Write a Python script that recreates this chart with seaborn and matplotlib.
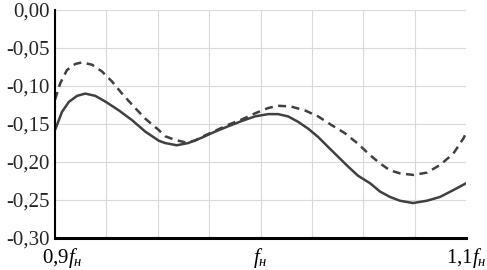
import pandas as pd
import matplotlib
matplotlib.use("Agg")
import matplotlib.pyplot as plt
import matplotlib.transforms as mtransforms
import seaborn as sns

# сплошная кривая
solid_f = [0.900, 0.9034, 0.9067, 0.9107, 0.9147, 0.9196, 0.9248, 0.9310,
           0.9375, 0.9439, 0.9505, 0.9535, 0.9592, 0.9649, 0.9714, 0.9779,
           0.9843, 0.9909, 0.9973, 1.0037, 1.0085, 1.0134, 1.0182, 1.0231,
           1.0280, 1.0328, 1.0377, 1.0426, 1.0474, 1.0533, 1.0582, 1.0630,
           1.0679, 1.0742, 1.0809, 1.0873, 1.0938, 1.100]
solid_v = [-0.158, -0.134, -0.121, -0.113, -0.110, -0.113, -0.121, -0.132,
           -0.145, -0.160, -0.172, -0.175, -0.178, -0.175, -0.168, -0.160,
           -0.153, -0.146, -0.140, -0.137, -0.137, -0.140, -0.147, -0.156,
           -0.167, -0.180, -0.193, -0.206, -0.218, -0.228, -0.239, -0.246,
           -0.251, -0.254, -0.251, -0.246, -0.237, -0.228]

# штриховая кривая
dash_f = [0.900, 0.9026, 0.9058, 0.9099, 0.9131, 0.9180, 0.9229, 0.9277,
          0.9326, 0.9383, 0.9439, 0.9505, 0.9535, 0.9584, 0.9633, 0.9681,
          0.9714, 0.9779, 0.9843, 0.9909, 0.9973, 1.0037, 1.0085, 1.0148,
          1.0215, 1.0280, 1.0343, 1.0410, 1.0474, 1.0533, 1.0582, 1.0630,
          1.0679, 1.0744, 1.0809, 1.0873, 1.0938, 1.0987, 1.100]
dash_v = [-0.118, -0.096, -0.079, -0.071, -0.069, -0.072, -0.081, -0.094,
          -0.110, -0.127, -0.143, -0.158, -0.166, -0.171, -0.174, -0.172,
          -0.167, -0.159, -0.151, -0.144, -0.136, -0.129, -0.126, -0.127,
          -0.132, -0.140, -0.151, -0.162, -0.176, -0.191, -0.202, -0.211,
          -0.215, -0.217, -0.214, -0.204, -0.189, -0.169, -0.162]

y_ticks = [0.0, -0.05, -0.10, -0.15, -0.20, -0.25, -0.30]
y_labels = ["0,00", "-0,05", "-0,10", "-0,15", "-0,20", "-0,25", "-0,30"]
x_ticks = [0.9, 1.0, 1.1]
x_labels = [r"0,9$\mathit{f}_{\mathit{н}}$", r"$\mathit{f}_{\mathit{н}}$",
            r"1,1$\mathit{f}_{\mathit{н}}$"]

df = pd.concat([
    pd.DataFrame({"f": solid_f, "v": solid_v, "s": "a"}),
    pd.DataFrame({"f": dash_f, "v": dash_v, "s": "b"}),
])

sns.set_style("white")
plt.rcParams["font.family"] = ["Liberation Serif", "DejaVu Serif"]
plt.rcParams["mathtext.fontset"] = "custom"
plt.rcParams["mathtext.rm"] = "Liberation Serif"
plt.rcParams["mathtext.it"] = "Liberation Serif:italic"

fig = plt.figure(figsize=(4.87, 2.70), dpi=100)
ax = fig.add_axes([0.113, 0.1185, 0.844, 0.8445])

sns.lineplot(data=df, x="f", y="v", hue="s", style="s",
             palette={"a": "#404040", "b": "#404040"},
             dashes={"a": "", "b": (3.2, 2.2)},
             linewidth=1.8, legend=False, sort=False, ax=ax)

ax.set_xlim(0.9, 1.1)
ax.set_ylim(-0.30, 0.0)
ax.set_xticks(x_ticks)
ax.set_xticklabels(x_labels, fontsize=15)
ax.set_xticks([0.9 + 0.025 * i for i in range(9)], minor=True)
ax.set_yticks(y_ticks)
ax.set_yticklabels(y_labels, fontsize=15)
ax.grid(True, which="both", color="#d9d9d9", linewidth=0.8)
ax.tick_params(axis="x", which="major", direction="in", length=8, width=2,
               pad=6, colors="black")
ax.tick_params(axis="x", which="minor", length=0)
ax.tick_params(axis="y", length=0, pad=4)
ax.set_xlabel("")
ax.set_ylabel("")
for side in ["top", "right"]:
    ax.spines[side].set_visible(False)
ax.spines["left"].set_linewidth(1.5)
ax.spines["left"].set_color("black")
ax.spines["bottom"].set_linewidth(2.2)
ax.spines["bottom"].set_color("black")
ax.set_axisbelow(True)

# первая подпись немного сдвинута вправо, как в оригинале
first = ax.get_xticklabels()[0]
first.set_transform(first.get_transform() +
                    mtransforms.ScaledTranslation(7 / 100, 0, fig.dpi_scale_trans))

fig.savefig("out.png", dpi=100)
